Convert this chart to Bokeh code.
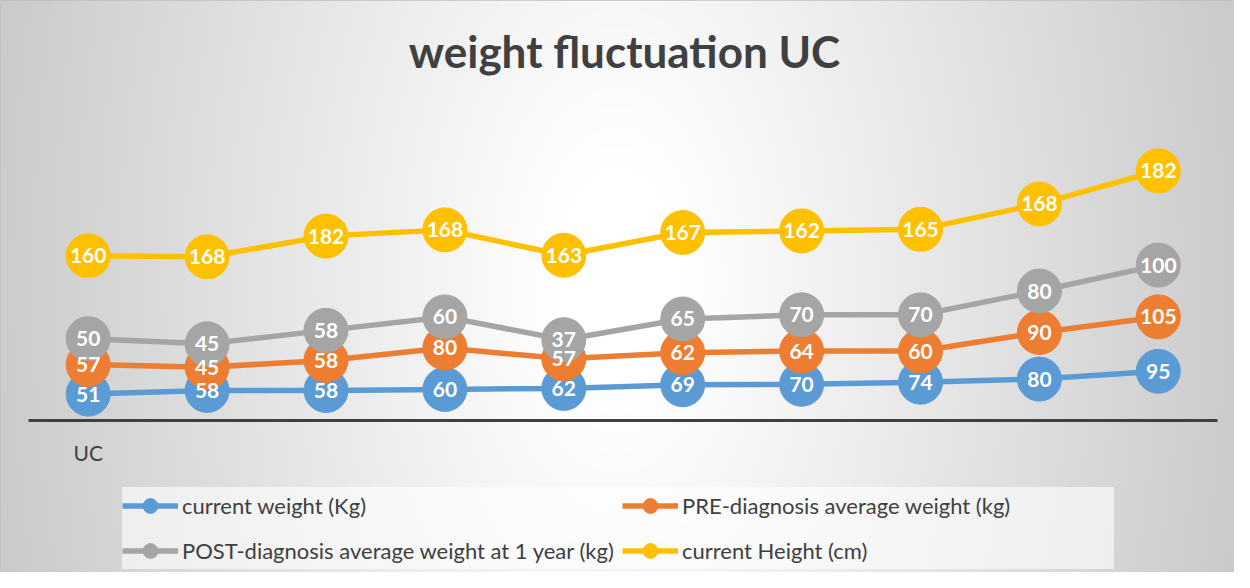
import numpy as np
from bokeh.plotting import figure
from bokeh.models import (ColumnDataSource, LinearAxis, FixedTicker, Legend,
                          LegendItem, Label)
from bokeh.core.properties import value
from bokeh.embed import file_html
from bokeh.resources import INLINE

# ---------------- data ----------------
categories = ["UC", "", "", "", "", "", "", "", "", ""]
current_weight = [51, 58, 58, 60, 62, 69, 70, 74, 80, 95]
pre_weight = [57, 45, 58, 80, 57, 62, 64, 60, 90, 105]
post_weight = [50, 45, 58, 60, 37, 65, 70, 70, 80, 100]
current_height = [160, 168, 182, 168, 163, 167, 162, 165, 168, 182]

series_names = ["current weight (Kg)",
                "PRE-diagnosis average weight (kg)",
                "POST-diagnosis average weight at 1 year (kg)",
                "current Height (cm)"]
series_values = [current_weight, pre_weight, post_weight, current_height]
colors = ["#5B9BD5", "#ED7D31", "#A5A5A5", "#FFC000"]

# ---------------- layout ----------------
W, H = 1234, 572
px_per_cat = 118.9
x0_px = 87.7          # frame px of first category
px_per_unit = 0.518
base_px = 420.0       # frame px (from top) of value 0

x_start = -x0_px / px_per_cat
x_end = (W - x0_px) / px_per_cat
y_end = base_px / px_per_unit
y_start = -(H - base_px) / px_per_unit

p = figure(width=W, height=H, output_backend="svg", toolbar_location=None,
           x_range=(x_start, x_end), y_range=(y_start, y_end),
           x_axis_location=None, y_axis_location=None, min_border=0)
p.background_fill_color = "#d8d8d8"
p.border_fill_color = "#d8d8d8"
p.outline_line_color = "#bfbfbf"
p.outline_line_width = 1
p.xgrid.visible = False
p.ygrid.visible = False

# radial grey background
gw, gh = W // 2, H // 2
xs = (np.arange(gw) + 0.5) * 2
ys = (np.arange(gh) + 0.5) * 2
X, Y = np.meshgrid(xs, ys)
d = np.sqrt((X - 617) ** 2 + (0.55 * (Y - 280)) ** 2)
v = 255 - 0.092 * np.clip(d - 63, 0, None)
v = np.clip(v, 188, 255).astype(np.uint8)
img = np.empty((gh, gw), dtype=np.uint32)
view = img.view(dtype=np.uint8).reshape((gh, gw, 4))
view[..., 0] = v
view[..., 1] = v
view[..., 2] = v
view[..., 3] = 255
img = img[::-1].copy()
p.image_rgba(image=[img], x=x_start, y=y_start, dw=x_end - x_start,
             dh=y_end - y_start, level="image")

# x axis at baseline
lab_ticks = [i for i, c in enumerate(categories) if c]
xaxis = LinearAxis(fixed_location=0,
                   ticker=FixedTicker(ticks=lab_ticks),
                   major_label_overrides={i: categories[i] for i in lab_ticks},
                   bounds=(-0.5, len(categories) - 0.5))
xaxis.axis_line_color = "#404040"
xaxis.axis_line_width = 3
xaxis.major_tick_line_color = None
xaxis.minor_tick_line_color = None
xaxis.major_label_text_font = "Lato"
xaxis.major_label_text_font_size = "21px"
xaxis.major_label_text_color = "#404040"
xaxis.major_label_standoff = 13
p.add_layout(xaxis, "below")

# stacked lines
xs_idx = list(range(len(categories)))
cum = np.zeros(len(categories))
items = []
label_sources = []
for name, vals, col in zip(series_names, series_values, colors):
    cum = cum + np.array(vals, dtype=float)
    src = ColumnDataSource(dict(x=xs_idx, y=cum.tolist(),
                                label=[str(vv) for vv in vals]))
    r1 = p.line('x', 'y', source=src, line_color=col, line_width=5.5)
    r2 = p.scatter('x', 'y', source=src, size=44, fill_color=col,
                   line_color=col, marker="circle")
    items.append(LegendItem(label=name, renderers=[r1, r2]))
    label_sources.append(src)

for src in label_sources:
    p.text('x', 'y', text='label', source=src, text_color="white",
           text_font=value("Lato"), text_font_style="bold",
           text_font_size="21px", text_align="center",
           text_baseline="middle")

legend = Legend(items=items, orientation="horizontal", ncols=2,
                location=(122, 3), margin=0, padding=3, spacing=8,
                glyph_width=56, glyph_height=37, label_standoff=4,
                label_width=432, label_height=37,
                label_text_font="Lato", label_text_font_size="22px",
                label_text_color="#404040",
                background_fill_color="white", background_fill_alpha=0.6,
                border_line_color=None)
p.add_layout(legend, "center")

title = Label(x=624, y=522, x_units="screen", y_units="screen",
              text="weight fluctuation UC", text_font="Lato",
              text_font_style="bold", text_font_size="44px",
              text_color="#404040", text_align="center",
              text_baseline="middle")
p.add_layout(title)

open("out.html", "w").write(file_html(p, INLINE))
